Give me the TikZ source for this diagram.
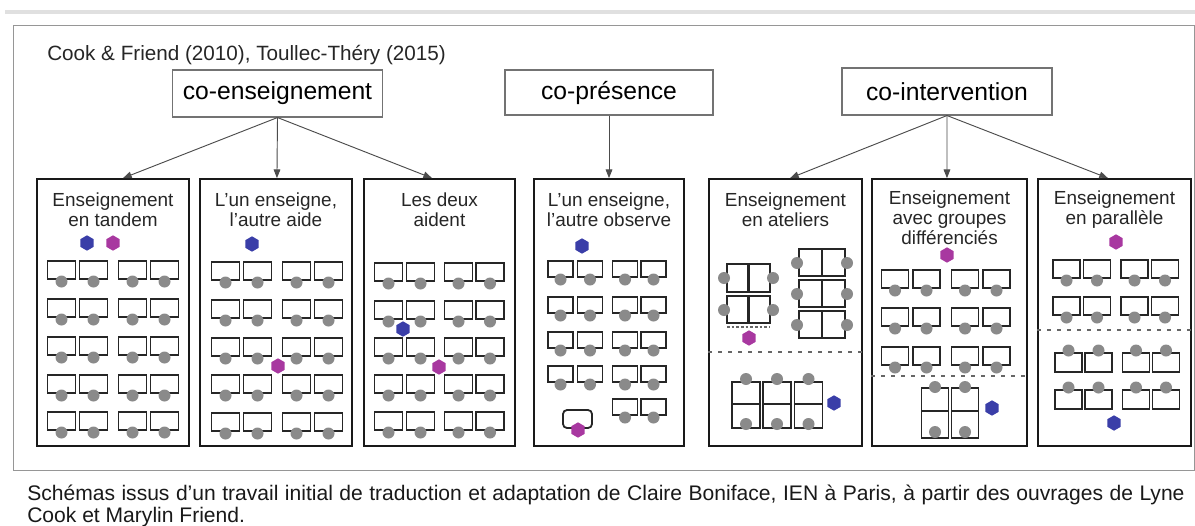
\documentclass[tikz,border=0pt]{standalone}
\usepackage{fontspec}
\setmainfont{Liberation Sans}
\usetikzlibrary{arrows.meta,shapes.geometric}
\definecolor{stu}{RGB}{138,138,138}
\definecolor{tblue}{RGB}{58,62,168}
\definecolor{tpurp}{RGB}{168,56,160}
\definecolor{frameg}{RGB}{150,150,150}
% desk with student below (x, top, width, height)
\newcommand\dskD[4]{%
  \draw[desk] ({#1-#3/2},#2) rectangle ({#1+#3/2},{#2+#4});
  \fill[stu] (#1,{#2+#4+2.5}) circle (4.5pt);}
% desk with student above
\newcommand\dskU[4]{%
  \draw[desk] ({#1-#3/2},#2) rectangle ({#1+#3/2},{#2+#4});
  \fill[stu] (#1,{#2-2.5}) circle (4.5pt);}
\begin{document}
\begin{tikzpicture}[x=0.75pt,y=-0.75pt,
  desk/.style={draw=black!85,line width=1.35pt},
  stu/.style={fill=stu},
  panel/.style={draw=black!90,line width=1.3pt,minimum width=152*0.75pt,minimum height=267*0.75pt,inner sep=0pt},
  catbox/.style={draw=black!55,line width=0.8pt,minimum width=210*0.75pt,minimum height=47*0.75pt,inner sep=0pt,font=\fontsize{18.5}{20}\selectfont},
  ptitle/.style={align=center,inner sep=0pt,font=\fontsize{14.2}{15}\selectfont,text=black!85},
  arr/.style={draw=black!70,line width=0.7pt,-{Triangle[length=6.5pt,width=5pt]}},
  sep/.style={draw=black!60,line width=1.2pt,dash pattern=on 3pt off 4.5pt},
  foot/.style={anchor=base west,inner sep=0pt,font=\fontsize{15.8}{18}\selectfont,text=black!90},
  tb/.style={regular polygon,regular polygon sides=6,shape border rotate=30,minimum size=11.5pt,inner sep=0pt,fill=tblue},
  tp/.style={regular polygon,regular polygon sides=6,shape border rotate=30,minimum size=11.5pt,inner sep=0pt,fill=tpurp}]
\useasboundingbox (0,0) rectangle (1195,525);
\fill[white] (0,0) rectangle (1195,525);
\fill[black!12] (5,10) rectangle (1195,14);
\draw[frameg,line width=0.6pt] (13,25) rectangle (1194.5,470);

\node[anchor=base west,inner sep=0pt,font=\fontsize{15.5}{17}\selectfont,text=black!85] (title) at (47,60) {Cook \& Friend (2010), Toullec-Théry (2015)};

\node[catbox] (ce) at (277.5,93.5) {co-enseignement};
\node[catbox,minimum width=208*0.75pt,minimum height=45*0.75pt] (cp) at (609,92.5) {co-présence};
\node[catbox] (ci) at (947,91.5) {co-intervention};

% panels
\node[panel] (p1) at (113,312.5) {};
\node[panel] (p2) at (276,312.5) {};
\node[panel,minimum width=151*0.75pt] (p3) at (439.5,312.5) {};
\node[panel,minimum width=150*0.75pt] (p4) at (609,312.5) {};
\node[panel,minimum width=153*0.75pt] (p5) at (785.5,312.5) {};
\node[panel,minimum width=155*0.75pt] (p6) at (949.5,312.5) {};
\node[panel,minimum width=153*0.75pt] (p7) at (1114.5,312.5) {};

% connectors
\draw[arr] (ce.south) -- ([xshift=7.5pt]p1.north);
\draw[arr] (ce.south) -- ([xshift=0.7pt]p2.north);
\draw[arr] (ce.south) -- ([xshift=-5.6pt]p3.north);
\draw[arr] (cp.south) -- (p4.north);
\draw[arr] (ci.south) -- ([xshift=3.4pt]p5.north);
\draw[arr] (ci.south) -- ([xshift=-1.9pt]p6.north);
\draw[arr] (ci.south) -- ([xshift=-4.9pt]p7.north);

% titles
\node[ptitle] (h1) at (113,210) {Enseignement\\en tandem};
\node[ptitle] (h2) at (276,210) {L’un enseigne,\\l'autre aide};
\node[ptitle] (h3) at (439.5,210) {Les deux\\aident};
\node[ptitle] (h4) at (609,210) {L’un enseigne,\\l'autre observe};
\node[ptitle] (h5) at (785.5,210) {Enseignement\\en ateliers};
\node[ptitle] (h6) at (949.5,218) {Enseignement\\avec groupes\\différenciés};
\node[ptitle] (h7) at (1114.5,210) {Enseignement\\en parallèle};

% panel 1
\foreach \x in {61.5,93.5,132.5,164.5}
  \foreach \y in {261,299,337,375,412}
    {\dskD{\x}{\y}{28}{18}}
\node[tb] (t1b) at (87,243) {};
\node[tp] (t1p) at (113,243) {};

% panel 2
\foreach \x in {225.5,257.5,296.5,328.5}
  \foreach \y in {262,300,338,375,413}
    {\dskD{\x}{\y}{28}{18}}
\node[tb] (t2b) at (252,244) {};
\node[tp] (t2p) at (278,366) {};

% panel 3
\foreach \x in {388.5,420.5,458.5,490}
  \foreach \y in {263,301,338,375,412}
    {\dskD{\x}{\y}{28}{18}}
\node[tb] (t3b) at (403,329) {};
\node[tp] (t3p) at (439,367) {};

% panel 4
\foreach \x in {560.5,590,625,653.5}
  \foreach \y in {261,297,332,366}
    {\dskD{\x}{\y}{25}{16}}
\foreach \x in {625,653.5}
    {\dskD{\x}{399}{25}{16}}
\draw[desk,rounded corners=3pt] (563,410) rectangle (592,428);
\node[tb] (t4b) at (582,246) {};
\node[tp] (t4p) at (578,430) {};

% panel 5
\draw[desk] (727,264) rectangle (770,292);
\draw[desk] (727,296) rectangle (770,323);
\draw[desk,line width=2pt] (748.5,264) -- (748.5,292) (748.5,296) -- (748.5,323);
\foreach \x/\y in {724/278,773/278,724/310,773/310} {\fill[stu] (\x,\y) circle (4.5pt);}
\draw[black!60,line width=1pt,dash pattern=on 2pt off 1.5pt] (727,327) -- (770,327);
\node[tp] (t5p) at (749,338) {};
\foreach \y in {249,280,311}
  {\draw[desk] (799,\y) rectangle (845,{\y+27});
   \draw[desk,line width=2pt] (822,\y) -- (822,{\y+27});
   \fill[stu] (797,{\y+14}) circle (4.5pt);
   \fill[stu] (847,{\y+14}) circle (4.5pt);}
\draw[sep] (p5.west |- 0,352) -- (p5.east |- 0,352);
\foreach \x in {746,777,808.5}
  {\draw[desk] ({\x-14},382) rectangle ({\x+14},428);
   \draw[desk,line width=2pt] ({\x-14},404) -- ({\x+14},404);
   \fill[stu] (\x,379) circle (4.5pt);
   \fill[stu] (\x,424) circle (4.5pt);}
\node[tb] (t5b) at (834,403) {};

% panel 6
\foreach \x in {895,926.5,965,996.5}
  \foreach \y in {270,308,347}
    {\dskD{\x}{\y}{27}{18}}
\node[tp] (t6p) at (947,255) {};
\draw[sep] (p6.west |- 0,376) -- (p6.east |- 0,376);
\foreach \x in {935,965}
  {\draw[desk] ({\x-13.5},388) rectangle ({\x+13.5},438);
   \draw[desk,line width=2pt] ({\x-13.5},411) -- ({\x+13.5},411);
   \fill[stu] (\x,387) circle (4.5pt);
   \fill[stu] (\x,432) circle (4.5pt);}
\node[tb] (t6b) at (992,408) {};

% panel 7
\foreach \x in {1066.5,1097,1134.5,1165}
  \foreach \y in {260,297}
    {\dskD{\x}{\y}{27}{18}}
\node[tp] (t7p) at (1116,242) {};
\draw[sep] (p7.west |- 0,330) -- (p7.east |- 0,330);
\foreach \x in {1068.5,1098.5,1136,1166}
  \foreach \y in {353,390}
    {\dskU{\x}{\y}{27}{19}}
\node[tb] (t7b) at (1114,423) {};

% footer
\node[foot] (f1) at (27,500) {\makebox[868pt][s]{Schémas issus d'un travail initial de traduction et adaptation de Claire Boniface, IEN à Paris, à partir des ouvrages de Lyne}};
\node[foot] (f2) at (27,522) {Cook et Marylin Friend.};
\end{tikzpicture}
\end{document}
